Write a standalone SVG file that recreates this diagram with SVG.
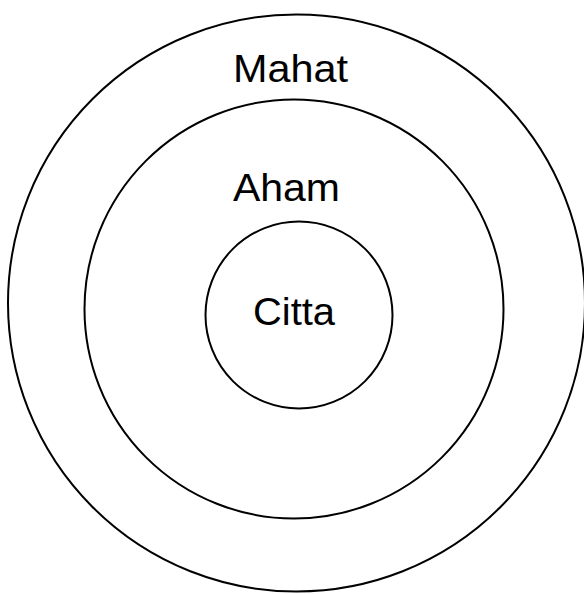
<svg xmlns="http://www.w3.org/2000/svg" width="584" height="594" viewBox="0 0 584 594">
<style>
.ring{fill:none;stroke:#000;stroke-width:2}
.lbl{font-family:"Liberation Sans",Arial,sans-serif;font-size:38px;fill:#000;text-anchor:middle}
</style>
<rect width="584" height="594" fill="#fff"/>
<g id="mahat">
<circle class="ring" cx="296.5" cy="303" r="288.5"/>
<text class="lbl" x="290.5" y="82" textLength="115" lengthAdjust="spacingAndGlyphs">Mahat</text>
</g>
<g id="aham">
<circle class="ring" cx="294" cy="309" r="209.5"/>
<text class="lbl" x="286.5" y="201" textLength="107" lengthAdjust="spacingAndGlyphs">Aham</text>
</g>
<g id="citta">
<circle class="ring" cx="299" cy="315" r="93.5"/>
<text class="lbl" x="294" y="325" textLength="82" lengthAdjust="spacingAndGlyphs">Citta</text>
</g>
<g id="connectors"/>
</svg>
